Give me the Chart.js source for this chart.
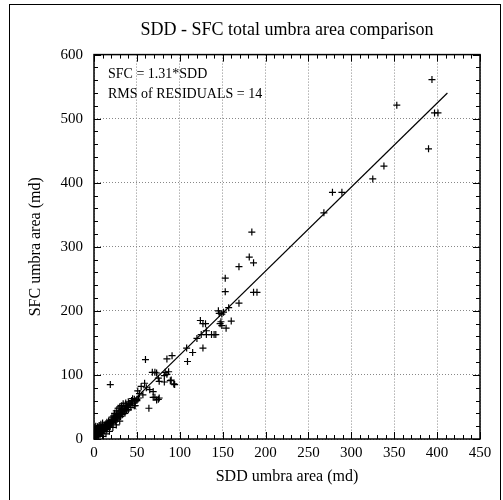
<!DOCTYPE html>
<html lang="en">

<head>
    <meta charset="UTF-8">
    <title>SDD - SFC total umbra area comparison</title>
    <style>
        body { margin: 0; background: #fff; }
        #wrap { position: relative; width: 503px; height: 500px; }
        #frame {
            position: absolute; left: 9px; top: 4px; width: 490px; height: 500px;
            border-left: 1px solid #000; border-top: 1px solid #000; border-right: 1px solid #000;
            pointer-events: none;
        }
        canvas { position: absolute; left: 0; top: 0; }
    </style>
</head>

<body>
    <div id="wrap">
        <canvas id="myChart" width="503" height="500"></canvas>
        <div id="frame"></div>
    </div>
    <script src="https://cdn.jsdelivr.net/npm/chart.js@4/dist/chart.umd.min.js"></script>
    <script>
        // SDD umbra area (x) vs SFC umbra area (y)
        const sddArea = [
            394, 353, 397, 401, 390, 338, 325, 289, 278, 268,
            184, 181, 186, 169, 153, 153, 186, 190, 169, 157,
            145, 146, 149, 151, 160, 148, 147, 149, 154, 124,
            127, 130, 131, 125, 131, 137, 140, 142, 120, 127,
            115, 108, 109, 91, 85, 60, 19,
            68, 71, 73, 83, 76, 75, 82, 85, 87, 82, 90, 93, 89, 94,
            64, 69, 73, 76, 71, 75, 59, 55, 61, 51, 53, 57, 65, 69,
            45, 48, 42, 50, 47, 44,
            0, 0, 0, 1, 1, 1, 1, 2, 2, 2, 2, 2, 3, 3, 3, 3, 4, 4, 4, 4,
            5, 5, 5, 5, 6, 6, 6, 6, 7, 7, 7, 8, 8, 8, 8, 9, 9, 9,
            10, 10, 10, 10, 11, 11, 12, 12, 12, 13, 13, 14, 14, 15, 15, 15,
            16, 16, 17, 17, 18, 18, 19, 19, 20, 20, 21, 21, 22, 22, 23, 23,
            24, 24, 25, 25, 26, 26, 27, 27, 28, 28, 29, 29, 30, 30, 31, 31,
            32, 32, 33, 33, 34, 34, 35, 35, 36, 36, 37, 37, 38, 38, 39, 40, 40,
            42, 43, 44, 45, 47, 48, 50, 52,
            10, 14, 18, 22, 26, 30
        ];
        const sfcArea = [
            561, 521, 509, 509, 453, 426, 406, 385, 385, 353,
            323, 284, 275, 269, 251, 230, 229, 229, 212, 205,
            200, 196, 195, 198, 184, 183, 180, 177, 173, 185,
            180, 180, 169, 163, 163, 163, 163, 163, 157, 142,
            135, 142, 121, 130, 125, 124, 85,
            104, 104, 103, 104, 90, 95, 99, 101, 105, 89, 92, 86, 91, 85,
            48, 65, 61, 64, 65, 62, 87, 82, 80, 75, 71, 69, 77, 74,
            63, 58, 55, 62, 52, 60,
            5, 10, 15, 3, 8, 12, 18, 2, 6, 10, 14, 20, 4, 8, 12, 16, 6, 10, 14, 19,
            5, 9, 13, 17, 8, 12, 16, 21, 7, 11, 15, 10, 14, 18, 23, 9, 13, 17,
            12, 16, 20, 25, 14, 18, 13, 17, 22, 16, 20, 18, 23, 15, 20, 26,
            19, 24, 21, 28, 22, 26, 20, 25, 24, 30, 27, 34, 26, 31, 29, 36,
            30, 40, 28, 33, 35, 44, 31, 38, 33, 48, 36, 42, 38, 50, 35, 44,
            40, 52, 38, 46, 42, 55, 44, 50, 40, 47, 48, 56, 44, 52, 50, 46, 58,
            54, 49, 60, 56, 62, 52, 60, 64,
            4, 8, 12, 18, 22, 28
        ];
        // fitted line SFC = 1.31*SDD, end points
        const fitX = [0, 412];
        const fitY = [0, 540];

        const xTicks = [0, 50, 100, 150, 200, 250, 300, 350, 400, 450];
        const yTicks = [0, 100, 200, 300, 400, 500, 600];
        const xMinor = 10;
        const yMinor = 20;
        const noteLines = ['SFC = 1.31*SDD', 'RMS of RESIDUALS = 14'];

        const serif = "'Liberation Serif', 'DejaVu Serif', serif";

        // box, inward ticks on all sides, and the text note
        const boxPlugin = {
            id: 'boxPlugin',
            afterDatasetsDraw(chart) {
                const { ctx, chartArea: a, scales: { x, y } } = chart;
                ctx.save();
                ctx.strokeStyle = '#000';
                ctx.lineWidth = 1;
                ctx.beginPath();
                for (let v = xTicks[0]; v <= xTicks[xTicks.length - 1]; v += xMinor) {
                    const px = Math.round(x.getPixelForValue(v)) + 0.5;
                    const len = xTicks.includes(v) ? 7 : 4;
                    ctx.moveTo(px, a.bottom); ctx.lineTo(px, a.bottom - len);
                    ctx.moveTo(px, a.top); ctx.lineTo(px, a.top + len);
                }
                for (let v = yTicks[0]; v <= yTicks[yTicks.length - 1]; v += yMinor) {
                    const py = Math.round(y.getPixelForValue(v)) + 0.5;
                    const len = yTicks.includes(v) ? 7 : 4;
                    ctx.moveTo(a.left, py); ctx.lineTo(a.left + len, py);
                    ctx.moveTo(a.right, py); ctx.lineTo(a.right - len, py);
                }
                ctx.stroke();
                ctx.lineWidth = 1.5;
                ctx.strokeRect(a.left, a.top, a.right - a.left, a.bottom - a.top);

                ctx.fillStyle = '#000';
                ctx.font = '14px ' + serif;
                ctx.textBaseline = 'middle';
                noteLines.forEach((t, i) => ctx.fillText(t, a.left + 14, a.top + 20 + i * 20));
                ctx.restore();
            }
        };

        const ctx = document.getElementById('myChart').getContext('2d');
        const myChart = new Chart(ctx, {
            type: 'scatter',
            data: {
                datasets: [
                    {
                        label: 'data',
                        data: sddArea.map((v, i) => ({ x: v, y: sfcArea[i] })),
                        pointStyle: 'cross',
                        pointRadius: 3.5,
                        borderColor: '#000',
                        borderWidth: 1.2,
                        backgroundColor: '#000'
                    },
                    {
                        label: 'fit',
                        type: 'line',
                        data: fitX.map((v, i) => ({ x: v, y: fitY[i] })),
                        borderColor: '#000',
                        borderWidth: 1.2,
                        pointRadius: 0,
                        fill: false
                    }
                ]
            },
            options: {
                responsive: false,
                animation: false,
                layout: { padding: { left: 0, right: 23, top: 0, bottom: 0 } },
                plugins: {
                    legend: { display: false },
                    tooltip: { enabled: false },
                    title: {
                        display: true,
                        fullSize: false,
                        text: 'SDD - SFC total umbra area comparison',
                        color: '#000',
                        font: { family: serif, size: 18, weight: 'normal', lineHeight: 1.2 },
                        padding: { top: 19, bottom: 14 }
                    }
                },
                scales: {
                    x: {
                        type: 'linear',
                        min: 0, max: 450,
                        afterBuildTicks: s => { s.ticks = xTicks.map(v => ({ value: v })); },
                        afterFit: s => { s.height = 61; },
                        grid: { color: '#888', lineWidth: 1, drawTicks: false },
                        border: { display: false, dash: [1, 2] },
                        ticks: { color: '#000', padding: 5, font: { family: serif, size: 15 }, maxRotation: 0 },
                        title: {
                            display: true, text: 'SDD umbra area (md)', color: '#000',
                            font: { family: serif, size: 16, lineHeight: 1.2 },
                            padding: { top: 0, bottom: 14 }
                        }
                    },
                    y: {
                        type: 'linear',
                        min: 0, max: 600,
                        afterBuildTicks: s => { s.ticks = yTicks.map(v => ({ value: v })); },
                        afterFit: s => { s.width = 94; },
                        grid: { color: '#888', lineWidth: 1, drawTicks: false },
                        border: { display: false, dash: [1, 2] },
                        ticks: { color: '#000', padding: 11, font: { family: serif, size: 15 } },
                        title: {
                            display: true, text: 'SFC umbra area (md)', color: '#000',
                            font: { family: serif, size: 16, lineHeight: 1.2 },
                            padding: { top: 26, bottom: 0 }
                        }
                    }
                }
            },
            plugins: [boxPlugin]
        });
    </script>
</body>

</html>
